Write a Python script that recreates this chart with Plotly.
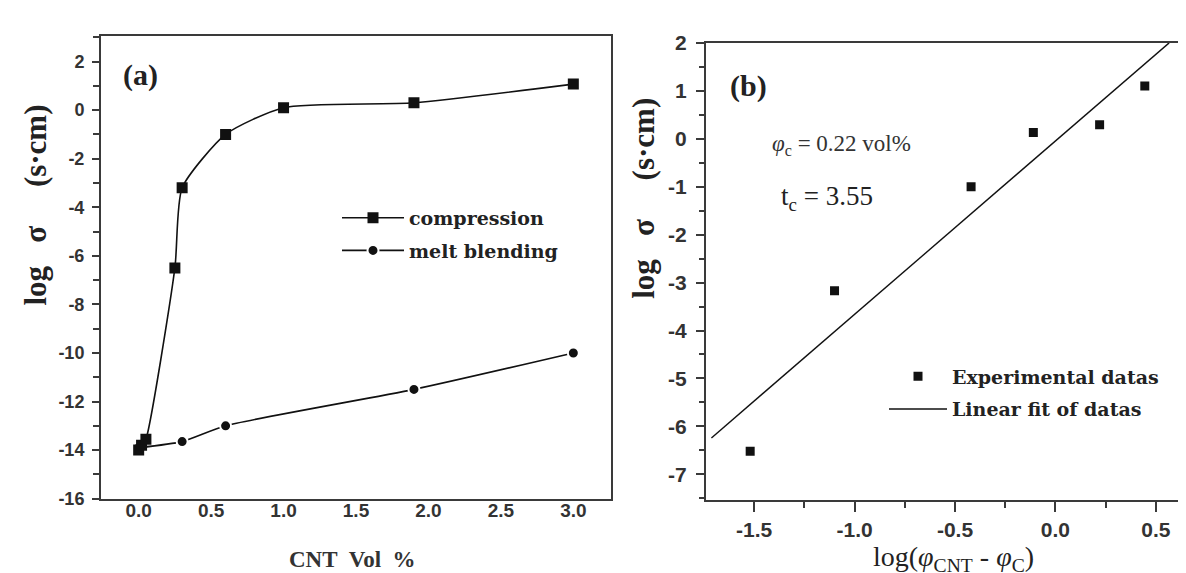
import plotly.graph_objects as go

# ---- Panel (a) data ----
cnt_vol = [0.0, 0.02, 0.05, 0.25, 0.30, 0.60, 1.00, 1.90, 3.00]
log_sigma_compression = [-14.0, -13.8, -13.55, -6.5, -3.2, -1.0, 0.1, 0.3, 1.07]
melt_vol = [0.0, 0.30, 0.60, 1.90, 3.00]
log_sigma_melt = [-13.9, -13.65, -13.0, -11.5, -10.0]

# ---- Panel (b) data ----
log_phi_diff = [-1.52, -1.10, -0.42, -0.11, 0.22, 0.445]
log_sigma_b = [-6.52, -3.17, -1.0, 0.13, 0.29, 1.1]
fit_x = [-1.713, 0.566]
fit_y = [-6.24, 2.0]

# ---- tick labels ----
xa_vals = [0.0, 0.5, 1.0, 1.5, 2.0, 2.5, 3.0]
xa_text = ["0.0", "0.5", "1.0", "1.5", "2.0", "2.5", "3.0"]
ya_vals = [2, 0, -2, -4, -6, -8, -10, -12, -14, -16]
ya_text = ["2", "0", "-2", "-4", "-6", "-8", "-10", "-12", "-14", "-16"]
xb_vals = [-1.5, -1.0, -0.5, 0.0, 0.5]
xb_text = ["-1.5", "-1.0", "-0.5", "0.0", "0.5"]
yb_vals = [2, 1, 0, -1, -2, -3, -4, -5, -6, -7]
yb_text = ["2", "1", "0", "-1", "-2", "-3", "-4", "-5", "-6", "-7"]

W, H = 1186, 573
AX = "#3a3a3a"
INK = "#111111"
SERIF = "Liberation Serif"
LEGSERIF = "DejaVu Serif"
SANS = "Liberation Sans"
NB = "\u00a0"

def px(x):
    return x / W

def py(y):
    return 1 - y / H

def bold(lst):
    return ["<b>%s</b>" % t for t in lst]

fig = go.Figure()

fig.add_trace(go.Scatter(
    x=melt_vol, y=log_sigma_melt, name="melt blending",
    mode="lines+markers", line=dict(color=INK, width=1.6, shape="spline", smoothing=0.6),
    marker=dict(symbol="circle", size=11, color=INK, line=dict(color="white", width=2)),
    xaxis="x", yaxis="y", legend="legend", legendgroup="a2", legendrank=2))
fig.add_trace(go.Scatter(
    x=cnt_vol, y=log_sigma_compression, name="compression",
    mode="lines+markers", line=dict(color=INK, width=1.6, shape="spline", smoothing=0.6),
    marker=dict(symbol="square", size=11, color=INK),
    xaxis="x", yaxis="y", legend="legend", legendgroup="a1", legendrank=1))

fig.add_trace(go.Scatter(
    x=log_phi_diff, y=log_sigma_b, name="Experimental datas",
    mode="markers", marker=dict(symbol="square", size=9, color=INK),
    xaxis="x2", yaxis="y2", legend="legend2", legendgroup="b1", legendrank=1))
fig.add_trace(go.Scatter(
    x=fit_x, y=fit_y, name="Linear fit of datas",
    mode="lines", line=dict(color=INK, width=1.4),
    xaxis="x2", yaxis="y2", legend="legend2", legendgroup="b2", legendrank=2))

common = dict(showgrid=False, zeroline=False, showline=True, linecolor=AX, linewidth=2,
              tickcolor=AX, tickwidth=1.5)
minor_a_x = dict(dtick=0.25, tick0=0, ticklen=5, ticks="outside", tickcolor=AX, tickwidth=1.5)

fig.update_layout(
    width=W, height=H, margin=dict(l=0, r=0, t=0, b=0),
    paper_bgcolor="white", plot_bgcolor="white",
    showlegend=True,
    # panel (a) x axis: labels only (ticks drawn by xaxis3 so labels sit close to the axis)
    xaxis=dict(domain=[px(93), px(603)], range=[-0.26, 3.26], anchor="y",
               tickvals=xa_vals, ticktext=bold(xa_text), ticks="", mirror=True,
               ticklabelstandoff=-6,
               tickfont=dict(family=SANS, size=19, color="#333333", weight="bold"),
               **common),
    xaxis3=dict(domain=[px(93), px(603)], range=[-0.26, 3.26], anchor="y", overlaying="x",
                side="bottom", tickvals=xa_vals, showticklabels=False, ticks="outside", ticklen=6,
                minor=minor_a_x, showgrid=False, zeroline=False, showline=False,
                tickcolor=AX, tickwidth=1.5),
    yaxis=dict(domain=[py(497.8), py(16.4)], range=[-16, 3.06], anchor="x",
               tickvals=ya_vals, ticktext=bold(ya_text), ticks="outside", ticklen=7, mirror=True,
               ticklabelstandoff=4,
               tickfont=dict(family=SANS, size=18, color="#333333", weight="bold"),
               minor=dict(dtick=1, tick0=0, ticklen=6, ticks="outside", tickcolor=AX, tickwidth=1.5),
               **common),
    xaxis2=dict(domain=[px(698), 1.0], range=[-1.74, 0.69], anchor="y2",
                tickvals=xb_vals, ticktext=bold(xb_text), ticks="outside", ticklen=10, mirror=True,
                tickfont=dict(family=SANS, size=21, color="#333333", weight="bold"),
                minor=dict(dtick=0.25, tick0=0, ticklen=6, ticks="outside", tickcolor=AX, tickwidth=1.5),
                **common),
    yaxis2=dict(domain=[py(498.9), py(23.8)], range=[-7.53, 2.0], anchor="x2",
                tickvals=yb_vals, ticktext=bold(yb_text), ticks="outside", ticklen=8, mirror=False,
                ticklabelstandoff=5,
                tickfont=dict(family=SANS, size=21, color="#333333", weight="bold"),
                minor=dict(dtick=0.5, tick0=0, ticklen=5, ticks="outside", tickcolor=AX, tickwidth=1.5),
                **common),
    legend=dict(x=px(329), y=py(186), xanchor="left", yanchor="top",
                bgcolor="rgba(0,0,0,0)", itemwidth=62, tracegroupgap=5,
                traceorder="grouped",
                font=dict(family=LEGSERIF, size=19, color="#222222", weight="bold")),
    legend2=dict(x=px(876), y=py(351), xanchor="left", yanchor="top",
                 bgcolor="rgba(0,0,0,0)", itemwidth=58, tracegroupgap=5,
                 traceorder="grouped",
                 font=dict(family=LEGSERIF, size=19, color="#222222", weight="bold")),
)

ytitle = "<b>log" + NB * 3 + "σ" + NB * 5 + "(s·cm)</b>"
ann = [
    dict(text="<b>(a)</b>", x=px(132), y=py(57), font=dict(family=SERIF, size=30, color="#222")),
    dict(text="<b>(b)</b>", x=px(740), y=py(69), font=dict(family=SERIF, size=30, color="#222")),
    dict(text="<i>φ</i><sub>c</sub> = 0.22 vol%", x=px(762), y=py(130), xanchor="left",
         font=dict(family=SERIF, size=23, color="#333")),
    dict(text="t<sub>c</sub> = 3.55", x=px(771), y=py(185), xanchor="left",
         font=dict(family=SERIF, size=27, color="#222")),
    dict(text=ytitle, x=px(28), y=py(193), textangle=-90,
         font=dict(family=SERIF, size=31, color="#222")),
    dict(text=ytitle, x=px(636), y=py(186), textangle=-90,
         font=dict(family=SERIF, size=31, color="#222")),
    dict(text="<b>CNT" + NB + " Vol" + NB + " %</b>", x=px(344), y=py(561),
         font=dict(family=SERIF, size=23, color="#333")),
    dict(text="log(<i>φ</i><sub>CNT</sub> - <i>φ</i><sub>C</sub>)", x=px(945), y=py(560),
         font=dict(family=SERIF, size=28, color="#222")),
]
for a in ann:
    a.setdefault("xanchor", "center")
    a.setdefault("yanchor", "middle")
    fig.add_annotation(xref="paper", yref="paper", showarrow=False, **a)

fig.write_html("out.html")
